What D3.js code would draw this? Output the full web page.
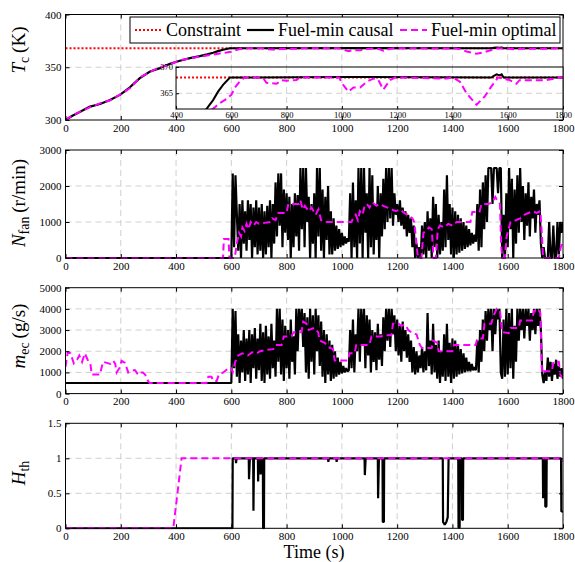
<!DOCTYPE html>
<html>
<head>
<meta charset="utf-8">
<script src="https://cdnjs.cloudflare.com/ajax/libs/d3/7.8.5/d3.min.js"></script>
<style>
  body { margin: 0; background: #fff; }
  svg, svg text { font-family: "Liberation Serif", "Times New Roman", Times, serif; }
  .grid line { stroke: #c4c4c4; stroke-width: 0.8; stroke-dasharray: 6,4; }
  .tick text { fill: #000; }
</style>
</head>
<body>
<div id="chart"></div>
<script>
// ---- data ----
var timeTicks = [0, 200, 400, 600, 800, 1000, 1200, 1400, 1600, 1800];
var insetTicks = [400, 600, 800, 1000, 1200, 1400, 1600, 1800];
var constraintTc = 368;

// coolant temperature (K), [time, value]
var tcCausal = [[0,300],[25,304],[53,307.9],[89,312.7],[125,315.2],[161,319],[197,323.8],[233,331],
  [269,339.7],[306,346],[342,349.2],[378,353.3],[414,356.2],[450,358.7],[486,360.5],[513,362.2],
  [534,363.7],[552,365.3],[570,366.6],[595,368],[1000,368.1],[1100,368.1],[1540,368],[1550,368.3],
  [1560,368.6],[1570,368.4],[1578,368.6],[1585,368],[1800,368]];
var tcOptimal = [[0,300],[20,303.5],[50,307.5],[90,312.2],[125,315.8],[160,318.5],[200,324.5],[235,330.5],
  [270,340.5],[305,345.5],[340,349.8],[380,352.8],[415,356.8],[450,358.3],[486,360],[528,361.8],
  [558,363.1],[582,363.9],[600,364.7],[612,366],[630,367.2],[648,368],[690,368],[715,367.9],[727,367],
  [745,366.9],[764,366.8],[780,367.5],[800,367.4],[836,367.5],[848,368],[990,368],[1000,366.9],
  [1024,365.3],[1042,366.1],[1066,366.1],[1090,367.2],[1114,367.8],[1132,367.5],[1150,365.7],
  [1174,367.5],[1192,368],[1379,367.8],[1403,368],[1427,367.2],[1451,365],[1487,362.8],[1517,364.4],
  [1541,366.3],[1565,368],[1607,367.5],[1631,366.8],[1643,367.5],[1740,367.5],[1788,368],[1800,368]];

// causal controller samples every 5 s from 600 s
var causalStart = 600, causalStep = 5;
var nfanCausal = [
  0, 2350, 300, 2300, 1200, 200, 1500, 0, 1600, 400, 1300, 200, 1600, 500, 1500, 0, 1400, 300, 1600, 100,
  1400, 200, 1500, 0, 1300, 100, 1450, 300, 1600, 0, 1500, 400, 2100, 600, 2350, 900, 2350, 300, 1900, 700,
  1800, 500, 1700, 0, 1500, 300, 1800, 600, 1750, 200, 2500, 800, 2500, 300, 2500, 1000, 1700, 0, 1500, 400,
  1800, 0, 2500, 600, 2500, 200, 1900, 0, 1700, 500, 2000, 100, 1300, 100, 1100, 200, 900, 250, 800, 300,
  700, 350, 600, 400, 550, 450, 1800, 0, 2100, 300, 1600, 0, 2500, 400, 2500, 0, 2500, 700, 1800, 0,
  2500, 300, 2300, 100, 1500, 500, 2000, 0, 1800, 600, 2200, 800, 2500, 1000, 2500, 1100, 2500, 900, 1800, 1200,
  1500, 1000, 1600, 900, 1400, 800, 1300, 600, 1200, 700, 1100, 300, 900, 0, 400, 0, 300, 0, 900, 100,
  1000, 0, 1300, 200, 1100, 0, 1700, 300, 1500, 0, 1200, 100, 1000, 200, 1900, 300, 2300, 500, 1500, 100,
  1400, 0, 1300, 100, 1200, 150, 1100, 200, 1000, 250, 900, 300, 800, 350, 700, 400, 650, 450, 1500, 200,
  1900, 300, 2100, 800, 2300, 1000, 2500, 2500, 2500, 1500, 2500, 2500, 2500, 1800, 2500, 2500, 0, 1200, 0, 1800,
  300, 2500, 800, 2200, 0, 1900, 400, 2300, 700, 2500, 1000, 2000, 500, 1800, 900, 2100, 600, 1700, 1100, 1900,
  700, 1500, 1200, 1600, 400, 0, 300, 0, 0, 0, 1000, 0, 0, 900, 0, 0, 1000, 100, 1000, 700, 1000];
var nfanOptimal = [[0,0],[570,0],[573,530],[590,530],[593,0],[612,0],[620,400],[628,700],[635,600],
  [640,850],[648,750],[655,950],[662,800],[670,1000],[680,900],[690,1000],[700,950],[740,1000],[748,1100],
  [760,1050],[770,1250],[800,1250],[806,1500],[845,1500],[850,1600],[858,1350],[866,1450],[880,1300],
  [890,1400],[905,1200],[915,1350],[925,1050],[940,1000],[1035,1000],[1040,1100],[1050,1200],[1058,1050],
  [1065,1300],[1075,1200],[1082,1450],[1090,1500],[1100,1400],[1110,1550],[1125,1450],[1135,1500],
  [1150,1450],[1165,1400],[1180,1350],[1195,1300],[1210,1350],[1225,1250],[1240,1200],[1255,1100],
  [1262,1000],[1270,400],[1275,0],[1288,0],[1295,700],[1305,750],[1315,850],[1325,800],[1332,0],[1340,0],
  [1347,800],[1355,900],[1370,850],[1385,950],[1400,900],[1415,1000],[1465,1000],[1472,1280],[1498,1280],
  [1505,1500],[1530,1500],[1545,1550],[1555,1700],[1562,1600],[1572,1500],[1576,400],[1580,0],[1590,0],
  [1596,600],[1603,800],[1610,1000],[1630,1050],[1645,1100],[1660,1200],[1675,1250],[1690,1300],
  [1705,1250],[1718,1300],[1724,600],[1728,0],[1785,0],[1792,300],[1800,500]];

var mecCausal = [
  500, 4000, 1200, 3900, 800, 2800, 500, 2500, 1000, 3000, 600, 2600, 900, 3000, 500, 2800, 1200, 3100, 700, 2600,
  1100, 3300, 600, 2900, 500, 3200, 900, 2700, 700, 3300, 1200, 2500, 800, 4000, 1500, 4000, 900, 3500, 600, 3200,
  1200, 3000, 700, 3500, 1500, 2700, 900, 4000, 2000, 4000, 3000, 4000, 2200, 3800, 1000, 3600, 700, 4000, 1500, 3700,
  900, 4000, 2000, 3700, 1300, 3400, 800, 3000, 500, 2800, 900, 2500, 600, 2300, 700, 2000, 800, 1700, 900, 1500,
  950, 1300, 1000, 1200, 1050, 1100, 3000, 1200, 3500, 1000, 2800, 2000, 4000, 1500, 4000, 2300, 4000, 1200, 3700, 1800,
  3500, 1000, 3000, 1500, 2900, 1100, 3300, 1600, 2800, 1300, 3600, 2000, 4000, 2500, 4000, 2200, 4000, 2800, 3700, 2000,
  3500, 1800, 3200, 1500, 3400, 2000, 3000, 1700, 2800, 1500, 2500, 1000, 2200, 900, 2000, 1000, 1800, 1200, 2200, 1000,
  2000, 1100, 3800, 1300, 2500, 900, 3300, 1000, 2300, 700, 2500, 500, 2000, 800, 2800, 600, 3300, 800, 2400, 500,
  2600, 700, 2500, 800, 2300, 900, 2100, 950, 1900, 1000, 1700, 1050, 1500, 1050, 1400, 1100, 1250, 1100, 2500, 1000,
  3000, 1500, 3500, 2000, 3900, 2500, 4000, 3000, 4000, 2000, 4000, 2800, 4000, 3500, 4000, 1000, 700, 3500, 800, 4000,
  900, 3800, 1200, 4000, 700, 3200, 1500, 4000, 2500, 4000, 3000, 4000, 2600, 4000, 3200, 4000, 2500, 3800, 3000, 4000,
  2800, 4000, 3200, 4000, 3000, 900, 500, 1000, 600, 1700, 800, 1500, 600, 1400, 900, 1600, 700, 1300, 800, 1200, 700];
var mecOptimal = [[0,1260],[8,1950],[18,1900],[30,1430],[42,1600],[50,1800],[60,1500],[70,1900],[80,1600],
  [90,1420],[95,900],[125,900],[130,1200],[136,1500],[150,1450],[162,1400],[173,1550],[180,1400],[185,1000],
  [195,1200],[203,1550],[215,1450],[227,1000],[240,1100],[252,1100],[262,900],[270,1000],[280,1000],
  [288,900],[300,560],[305,500],[510,500],[517,800],[528,800],[535,600],[547,600],[555,900],[571,1000],
  [590,1200],[600,1200],[605,1000],[614,1500],[625,1800],[640,1900],[660,1800],[675,1950],[692,1900],
  [704,2000],[720,2050],[752,2100],[760,2300],[782,2300],[790,2700],[818,2700],[825,2900],[854,2900],
  [860,3400],[872,3300],[880,3000],[900,3100],[914,2900],[920,2500],[938,2400],[950,2200],[968,2100],
  [974,1560],[1022,1560],[1028,1900],[1046,1900],[1052,2300],[1100,2300],[1107,2700],[1143,2700],
  [1150,2750],[1179,2750],[1185,3300],[1200,3350],[1215,3200],[1230,3250],[1240,3000],[1255,2850],
  [1270,2800],[1282,2300],[1290,2150],[1325,2150],[1330,2500],[1345,2400],[1350,2000],[1400,2000],
  [1405,2300],[1484,2300],[1490,2600],[1510,2600],[1516,3300],[1540,3300],[1550,3700],[1560,4000],
  [1572,3900],[1580,2900],[1604,2850],[1610,3100],[1640,3100],[1645,3450],[1688,3450],[1695,3900],
  [1710,4000],[1718,3800],[1724,950],[1730,1050],[1760,1050],[1765,1500],[1785,1500],[1790,900],[1800,680]];

var hthCausal = [[0,0],[604,0],[605,1],[616,1],[617,0.93],[619,1],[663,1],[664,0.7],[667,1],[679,1],
  [680,0.25],[682,1],[696,1],[697,0.67],[699,1],[705,1],[706,0.77],[708,1],[714,1],[715,0],[718,0],[719,1],
  [950,1],[951,0.95],[953,1],[980,1],[981,0.95],[983,1],[1082,1],[1083,0.76],[1086,1],[1130,1],[1131,0.43],
  [1134,1],[1147,1],[1148,0.09],[1152,0.09],[1153,1],[1365,1],[1366,0.09],[1372,0.05],[1378,0.09],
  [1383,0.16],[1386,1],[1421,1],[1422,0.01],[1426,0.01],[1427,1],[1434,1],[1435,0.12],[1438,0.12],
  [1439,1],[1727,1],[1728,0.43],[1731,1],[1735,1],[1736,0.31],[1740,0.31],[1741,1],[1793,1],[1794,0.24],
  [1800,0.24]];
var hthOptimal = [[0,0],[390,0],[420,1],[1797,1],[1800,0.95]];

var serif = '"Liberation Serif", "Times New Roman", Times, serif';

function causalSeries(values, before) {
  return [[0, before]].concat(values.map(function (v, i) {
    return [causalStart + i * causalStep, v];
  }));
}

// ---- layout ----
var width = 575, height = 562;
var svg = d3.select('#chart').append('svg')
  .attr('width', width).attr('height', height)
  .style('font-family', serif);

var x = d3.scaleLinear().domain([0, 1800]).range([65.5, 563]);
var fmt = function (d) { return String(d); };

var line = function (y) {
  return d3.line().x(function (d) { return x(d[0]); }).y(function (d) { return y(d[1]); });
};

function drawPanel(cfg) {
  var y = d3.scaleLinear().domain(cfg.yDomain).range([cfg.bottom, cfg.top]);
  var g = svg.append('g');

  // grid
  var grid = g.append('g').attr('class', 'grid');
  grid.selectAll('line.v').data(timeTicks.slice(1, -1)).enter().append('line')
    .attr('x1', function (d) { return x(d); }).attr('x2', function (d) { return x(d); })
    .attr('y1', cfg.top).attr('y2', cfg.bottom);
  grid.selectAll('line.h').data(cfg.yTicks.slice(1, -1)).enter().append('line')
    .attr('y1', function (d) { return y(d); }).attr('y2', function (d) { return y(d); })
    .attr('x1', x(0)).attr('x2', x(1800));

  var clipId = 'clip' + cfg.id;
  svg.append('clipPath').attr('id', clipId).append('rect')
    .attr('x', x(0)).attr('y', cfg.top - 1)
    .attr('width', x(1800) - x(0)).attr('height', cfg.bottom - cfg.top + 2);
  var plot = g.append('g').attr('clip-path', 'url(#' + clipId + ')');

  if (cfg.constraint != null) {
    plot.append('line')
      .attr('x1', x(0)).attr('x2', x(1800))
      .attr('y1', y(cfg.constraint)).attr('y2', y(cfg.constraint))
      .attr('stroke', '#ff0000').attr('stroke-width', 2).attr('stroke-dasharray', '2,2');
  }
  plot.append('path').datum(cfg.causal).attr('d', line(y))
    .attr('fill', 'none').attr('stroke', '#000').attr('stroke-width', 2.2)
    .attr('stroke-linejoin', 'bevel');
  plot.append('path').datum(cfg.optimal).attr('d', line(y))
    .attr('fill', 'none').attr('stroke', '#ff00ff').attr('stroke-width', 2)
    .attr('stroke-dasharray', '7,4');

  // axes, ticks pointing inward on all four sides
  var bottom = g.append('g').attr('transform', 'translate(0,' + cfg.bottom + ')')
    .call(d3.axisBottom(x).tickValues(timeTicks).tickSize(-4).tickPadding(4).tickFormat(fmt));
  var left = g.append('g').attr('transform', 'translate(' + x(0) + ',0)')
    .call(d3.axisLeft(y).tickValues(cfg.yTicks).tickSize(-4).tickPadding(4).tickFormat(fmt));
  g.append('g').attr('transform', 'translate(0,' + cfg.top + ')')
    .call(d3.axisTop(x).tickValues(timeTicks).tickSize(-4).tickFormat(''));
  g.append('g').attr('transform', 'translate(' + x(1800) + ',0)')
    .call(d3.axisRight(y).tickValues(cfg.yTicks).tickSize(-4).tickFormat(''));
  g.selectAll('.domain').remove();
  g.selectAll('.tick line').attr('stroke', '#000');
  [bottom, left].forEach(function (a) {
    a.attr('font-family', null);
    a.selectAll('text').style('font-family', serif).style('font-size', '11px').attr('fill', '#000');
  });
  g.append('rect').attr('x', x(0)).attr('y', cfg.top)
    .attr('width', x(1800) - x(0)).attr('height', cfg.bottom - cfg.top)
    .attr('fill', 'none').attr('stroke', '#000').attr('stroke-width', 1);
  return { g: g, y: y };
}

function yLabel(cy, main, sub, unit) {
  var t = svg.append('text')
    .attr('transform', 'translate(25,' + cy + ') rotate(-90)')
    .attr('text-anchor', 'middle')
    .style('font-family', serif).style('font-size', '19px');
  t.append('tspan').style('font-style', 'italic').text(main);
  t.append('tspan').attr('dy', 4).style('font-size', '14px').text(sub);
  if (unit) t.append('tspan').attr('dy', -4).text('\u2009' + unit);
}

// ---- panel 1: coolant temperature ----
drawPanel({
  id: 1, top: 14.5, bottom: 120, yDomain: [300, 400], yTicks: [300, 350, 400],
  causal: tcCausal, optimal: tcOptimal, constraint: constraintTc
});

// inset zoom
(function () {
  var top = 67, bottom = 109;
  var yi = d3.scaleLinear().domain([362, 370]).range([bottom, top]);
  var gi = svg.append('g');
  gi.append('rect').attr('x', x(400)).attr('y', top)
    .attr('width', x(1800) - x(400)).attr('height', bottom - top).attr('fill', '#fff');
  var grid = gi.append('g').attr('class', 'grid');
  grid.selectAll('line.v').data(insetTicks.slice(1, -1)).enter().append('line')
    .attr('x1', function (d) { return x(d); }).attr('x2', function (d) { return x(d); })
    .attr('y1', top).attr('y2', bottom);
  grid.append('line').attr('x1', x(400)).attr('x2', x(1800))
    .attr('y1', yi(365)).attr('y2', yi(365));
  svg.append('clipPath').attr('id', 'clipInset').append('rect')
    .attr('x', x(400)).attr('y', top).attr('width', x(1800) - x(400)).attr('height', bottom - top);
  var plot = gi.append('g').attr('clip-path', 'url(#clipInset)');
  plot.append('line').attr('x1', x(400)).attr('x2', x(1800))
    .attr('y1', yi(constraintTc)).attr('y2', yi(constraintTc))
    .attr('stroke', '#ff0000').attr('stroke-width', 2).attr('stroke-dasharray', '2,2');
  plot.append('path').datum(tcCausal).attr('d', line(yi))
    .attr('fill', 'none').attr('stroke', '#000').attr('stroke-width', 2);
  plot.append('path').datum(tcOptimal).attr('d', line(yi))
    .attr('fill', 'none').attr('stroke', '#ff00ff').attr('stroke-width', 2)
    .attr('stroke-dasharray', '7,4');
  gi.append('g').attr('transform', 'translate(0,' + bottom + ')')
    .call(d3.axisBottom(x).tickValues(insetTicks).tickSize(-3).tickPadding(3).tickFormat(fmt));
  gi.append('g').attr('transform', 'translate(' + x(400) + ',0)')
    .call(d3.axisLeft(yi).tickValues([365, 370]).tickSize(-3).tickPadding(3).tickFormat(fmt));
  gi.selectAll('.domain').remove();
  gi.selectAll('.tick line').attr('stroke', '#000');
  gi.selectAll('.tick text').style('font-family', serif).style('font-size', '8.5px').attr('fill', '#000');
  gi.append('rect').attr('x', x(400)).attr('y', top)
    .attr('width', x(1800) - x(400)).attr('height', bottom - top)
    .attr('fill', 'none').attr('stroke', '#000').attr('stroke-width', 1);
})();

// legend
(function () {
  var lg = svg.append('g');
  lg.append('rect').attr('x', 130).attr('y', 17).attr('width', 430).attr('height', 26)
    .attr('fill', '#fff').attr('stroke', '#000').attr('stroke-width', 1);
  var items = [
    { x: 135, label: 'Constraint', color: '#ff0000', dash: '2,2' },
    { x: 247, label: 'Fuel-min causal', color: '#000', dash: null },
    { x: 400, label: 'Fuel-min optimal', color: '#ff00ff', dash: '7,4' }
  ];
  items.forEach(function (it) {
    lg.append('line').attr('x1', it.x).attr('x2', it.x + 27).attr('y1', 30).attr('y2', 30)
      .attr('stroke', it.color).attr('stroke-width', 2.2)
      .attr('stroke-dasharray', it.dash);
    lg.append('text').attr('x', it.x + 31).attr('y', 36)
      .style('font-family', serif).style('font-size', '18px').text(it.label);
  });
})();

// ---- panel 2: fan speed ----
drawPanel({
  id: 2, top: 150, bottom: 258, yDomain: [0, 3000], yTicks: [0, 1000, 2000, 3000],
  causal: causalSeries(nfanCausal, 0), optimal: nfanOptimal
});

// ---- panel 3: coolant mass flow ----
drawPanel({
  id: 3, top: 287.7, bottom: 393.6, yDomain: [0, 5000], yTicks: [0, 1000, 2000, 3000, 4000, 5000],
  causal: causalSeries(mecCausal, 500), optimal: mecOptimal
});

// ---- panel 4: thermostat ----
drawPanel({
  id: 4, top: 423.3, bottom: 528.3, yDomain: [0, 1.5], yTicks: [0, 0.5, 1, 1.5],
  causal: hthCausal, optimal: hthOptimal
});

yLabel(50, 'T', 'c', '(K)');
yLabel(203, 'N', 'fan', '(r/min)');
yLabel(336, 'm', 'ec', '(g/s)');
yLabel(473, 'H', 'th', null);

svg.append('text').attr('x', 314).attr('y', 558).attr('text-anchor', 'middle')
  .style('font-family', serif).style('font-size', '18px').text('Time (s)');
</script>
</body>
</html>
